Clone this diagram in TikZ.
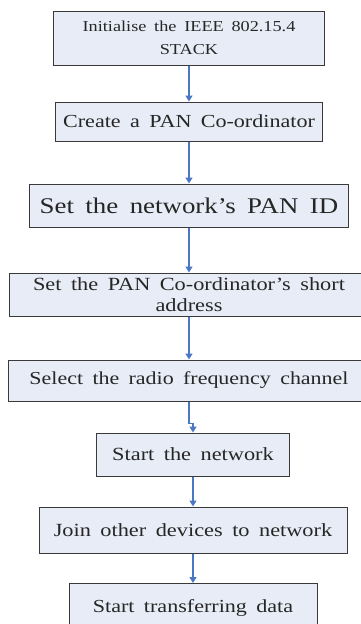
\documentclass[tikz,border=0pt]{standalone}
\usepackage{fontspec}
\setmainfont[WordSpace=1.7,FakeStretch=1.2]{Liberation Serif}
\usetikzlibrary{arrows.meta}

\definecolor{boxfill}{HTML}{E7ECF6}
\definecolor{boxline}{HTML}{3A3A3A}
\definecolor{flowblue}{HTML}{4A78C2}

\begin{document}
\begin{tikzpicture}[x=1pt,y=-1pt,
  stepbox/.style={draw=boxline,fill=boxfill,line width=1pt,inner sep=0pt,align=center,text=black!85},
  flow/.style={draw=flowblue,line width=1.4pt,-{Triangle[width=7pt,length=6pt]}}]

\useasboundingbox (0,0) rectangle (361,624);

\node[stepbox,minimum width=271pt,minimum height=54pt,font=\fontsize{15.2}{23}\selectfont] (init) at (189,38) {Initialise the IEEE 802.15.4\\STACK};
\node[stepbox,minimum width=267pt,minimum height=39pt,font=\fontsize{18.4}{22}\selectfont] (create) at (189,121.5) {Create a PAN Co-ordinator};
\node[stepbox,minimum width=319pt,minimum height=43pt,font=\fontsize{22.4}{24}\selectfont] (panid) at (189,205.5) {Set the network's PAN ID};
\node[stepbox,minimum width=360pt,minimum height=43pt,font=\fontsize{18.6}{21}\selectfont] (short) at (189,294.5) {Set the PAN Co-ordinator's short\\address};
\node[stepbox,minimum width=362pt,minimum height=41pt,font=\fontsize{18.3}{19}\selectfont] (radio) at (189,380.5) {Select the radio frequency channel};
\node[stepbox,minimum width=193pt,minimum height=43pt,font=\fontsize{18.6}{19}\selectfont] (start) at (193,454.5) {Start the network};
\node[stepbox,minimum width=308pt,minimum height=46pt,font=\fontsize{18.6}{19}\selectfont] (join) at (193,530) {Join other devices to network};
\node[stepbox,minimum width=248pt,minimum height=50pt,font=\fontsize{18.4}{19}\selectfont,anchor=north] (data) at (193,583) {Start transferring data};

\draw[flow] (init) -- (create);
\draw[flow] (create) -- (panid);
\draw[flow] (panid) -- (short);
\draw[flow] (short) -- (radio);
\draw[flow] (radio.south) -- ++(0,22) -| (start.north);
\draw[flow] (start) -- (join);
\draw[flow] (join) -- (data.north);

\end{tikzpicture}
\end{document}
